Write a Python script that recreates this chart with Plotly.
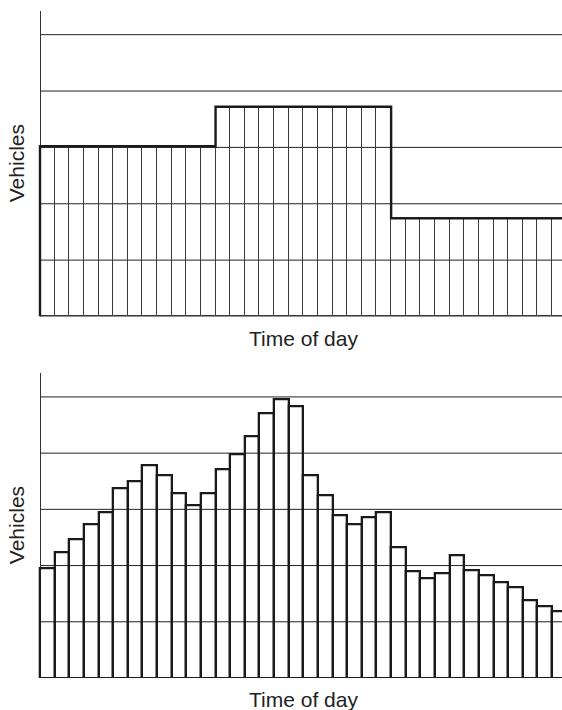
import plotly.graph_objects as go

# Fifteen-minute vehicle counts over the day (36 intervals), in grid units
interval_counts = [
    1.96, 2.24, 2.47, 2.73, 2.94, 3.37, 3.50, 3.79, 3.61, 3.28, 3.08, 3.28,
    3.71, 3.98, 4.30, 4.70, 4.95, 4.83, 3.61, 3.25, 2.89, 2.73, 2.85, 2.95,
    2.33, 1.90, 1.78, 1.87, 2.19, 1.91, 1.82, 1.70, 1.62, 1.38, 1.28, 1.19,
]

# Hourly-block averages (three blocks of 12 intervals each)
block_values = [3.02, 3.72, 1.74]
intervals_per_block = 12

# Horizontal reference levels
grid_levels = [1, 2, 3, 4, 5]

n_intervals = len(interval_counts)
interval_x = [i + 0.5 for i in range(n_intervals)]
interval_block_heights = [v for v in block_values for _ in range(intervals_per_block)]

# Outline of the blocks as a stepped path
block_edges = [i * intervals_per_block for i in range(len(block_values) + 1)]
outline_x = [block_edges[0]] + block_edges
outline_y = [0] + block_values + [block_values[-1]]

INK = "#1a1a1a"
FONT = "Liberation Sans, Arial, Helvetica, sans-serif"

fig = go.Figure()

# Top panel: thin interval cells inside each block
fig.add_trace(go.Bar(
    x=interval_x, y=interval_block_heights, width=1,
    marker=dict(color="rgba(0,0,0,0)", line=dict(color="#3a3a3a", width=1)),
    xaxis="x", yaxis="y", showlegend=False, hoverinfo="skip",
))
# Top panel: thick block outline
fig.add_trace(go.Scatter(
    x=outline_x, y=outline_y, mode="lines", line_shape="hv",
    line=dict(color=INK, width=2.4),
    xaxis="x", yaxis="y", showlegend=False, hoverinfo="skip",
))

# Bottom panel: interval counts
fig.add_trace(go.Bar(
    x=interval_x, y=interval_counts, width=1,
    marker=dict(color="rgba(0,0,0,0)", line=dict(color=INK, width=2.3)),
    xaxis="x2", yaxis="y2", showlegend=False,
))

x_range = [-0.137, 35.68]
y_range = [0, 5.42]

common_x = dict(
    range=x_range, showgrid=False, showticklabels=False, ticks="",
    zeroline=True, zerolinecolor="#333333", zerolinewidth=1.2,
    fixedrange=True,
)
common_y = dict(
    range=y_range, showgrid=False, showticklabels=False, ticks="",
    zeroline=False, showline=False, fixedrange=True,
)

fig.update_layout(
    width=562, height=710,
    margin=dict(l=38, r=0, t=11, b=32),
    paper_bgcolor="white", plot_bgcolor="white",
    bargap=0,
    xaxis=dict(domain=[0, 1], anchor="y", **common_x),
    yaxis=dict(domain=[0.542, 1], anchor="x", **common_y),
    xaxis2=dict(domain=[0, 1], anchor="y2", **common_x),
    yaxis2=dict(domain=[0, 0.4568], anchor="x2", **common_y),
    font=dict(family=FONT, size=21, color="#222222"),
)

# Grid lines and baseline, starting at the vertical axis
for xr, yr in (("x", "y"), ("x2", "y2")):
    for lvl in [0] + grid_levels:
        fig.add_shape(
            type="line", xref=xr, yref=yr, x0=0, x1=n_intervals,
            y0=lvl, y1=lvl, layer="below",
            line=dict(color="#222222", width=1),
        )

label_font = dict(family=FONT, size=21, color="#222222")
vx = (16.5 - 38) / 524
tx = (303.5 - 38) / 524
annotations = [
    dict(text="Vehicles", x=vx, y=0.771, textangle=-90),
    dict(text="Vehicles", x=vx, y=0.2284, textangle=-90),
    dict(text="Time of day", x=tx, y=(678 - 338) / 667),
    dict(text="Time of day", x=tx, y=(678 - 699) / 667),
]
for a in annotations:
    fig.add_annotation(
        xref="paper", yref="paper", showarrow=False,
        xanchor="center", yanchor="middle", font=label_font, **a,
    )

fig.write_html("out.html")
